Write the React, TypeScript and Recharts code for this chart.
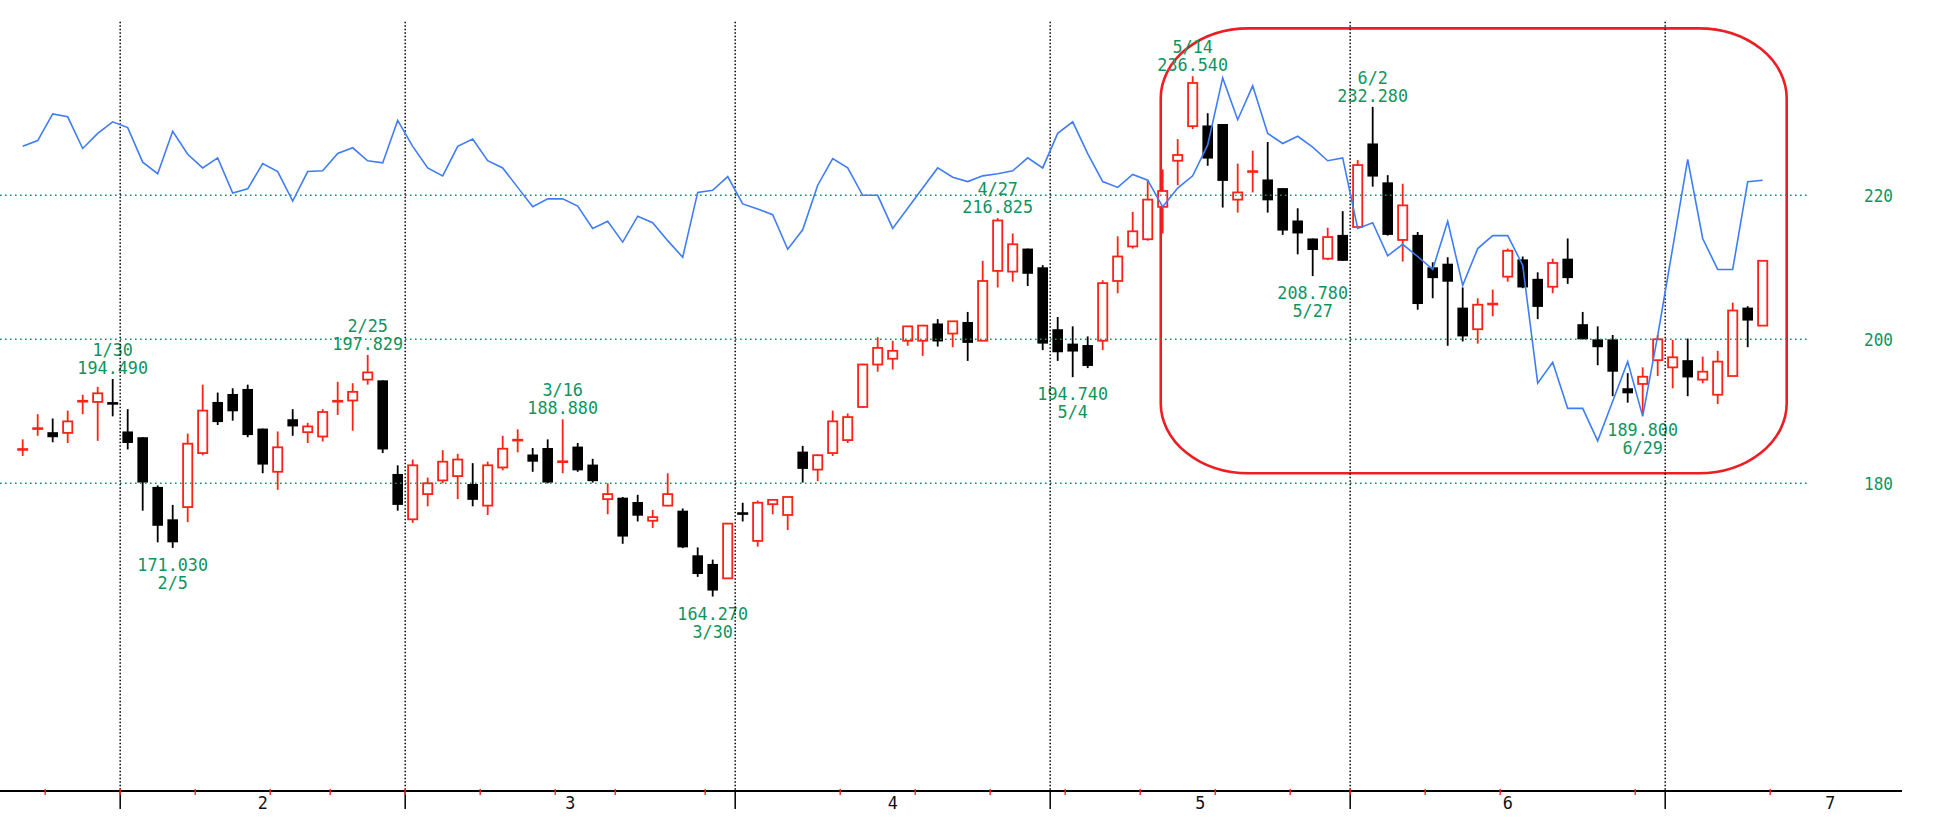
import { Bar, ComposedChart, Line, ReferenceArea, ReferenceLine, XAxis, YAxis } from 'recharts';

// daily candles, 2015-01-22 .. 2015-07-10 (index = trading day)
const opens = [
  184.7, 187.6, 187.1, 187.0, 191.4, 191.3, 191.1,
  187.2, 186.4, 179.5, 175.0, 176.7, 184.2, 191.3, 192.4, 193.1, 187.6, 181.6, 188.9, 187.1, 186.5, 191.4, 191.5, 194.4, 194.3, 181.3,
  175.0, 178.5, 180.4, 181.0, 179.9, 176.9, 182.2, 186.0, 184.0, 184.9, 183.0, 185.1, 182.6, 177.8, 178.0, 177.4, 174.8, 176.9, 176.2, 170.0, 168.8, 166.8,
  175.8, 172.0, 177.1, 175.6, 184.4, 181.9, 184.2, 186.0, 190.6, 196.5, 197.3, 199.8, 199.8, 202.2, 200.8, 202.4, 199.8, 209.5, 209.4, 212.6, 210.0,
  201.4, 199.4, 199.2, 199.8, 208.1, 212.9, 213.9, 218.4, 224.8, 229.6, 229.7, 229.9, 219.4, 223.3, 222.2, 221.0, 216.5, 214.0, 211.2, 214.5,
  215.6, 227.2, 221.8, 213.8, 214.5, 210.0, 210.5, 204.4, 201.4, 204.9, 208.7, 211.1, 208.4, 207.3, 211.2, 202.1, 200.0, 200.0, 193.2, 193.8, 197.1,
  196.1, 197.1, 194.4, 192.3, 194.9, 204.4, 201.9,
];
const highs = [
  186.1, 189.6, 189.0, 190.1, 192.3, 193.4, 194.49,
  190.3, 186.4, 179.7, 177.0, 186.9, 193.7, 192.6, 193.2, 193.7, 187.6, 187.2, 190.3, 188.4, 190.3, 194.1, 193.9, 197.829, 194.3, 182.5,
  183.3, 180.8, 184.6, 184.1, 182.8, 183.0, 186.6, 187.5, 184.9, 186.1, 188.88, 185.6, 183.4, 180.0, 178.1, 178.4, 176.3, 181.4, 176.5, 171.1, 169.4, 174.5,
  177.3, 177.6, 177.8, 178.1, 185.2, 184.0, 190.1, 189.7, 196.6, 200.3, 199.8, 201.8, 202.0, 202.8, 202.5, 203.8, 210.9, 216.825, 214.7, 212.6, 210.3,
  203.1, 201.8, 200.4, 208.2, 214.3, 217.7, 222.1, 223.6, 227.8, 236.54, 231.4, 229.9, 224.4, 226.2, 227.4, 221.0, 218.2, 214.0, 215.5, 217.8,
  224.9, 232.28, 222.8, 221.6, 214.9, 210.7, 211.4, 207.2, 205.7, 206.9, 212.6, 211.5, 209.3, 211.2, 214.0, 203.8, 201.8, 200.6, 195.3, 196.1, 200.6,
  199.9, 200.1, 197.6, 198.4, 205.1, 204.6, 210.9,
];
const lows = [
  183.8, 186.6, 185.7, 185.6, 189.6, 185.9, 189.3,
  184.7, 176.2, 171.8, 171.03, 174.6, 183.9, 188.1, 188.7, 186.4, 181.4, 179.1, 186.6, 185.6, 185.8, 189.5, 187.3, 193.7, 184.2, 176.2,
  174.5, 176.8, 180.0, 177.8, 176.8, 175.6, 181.8, 184.3, 181.6, 180.0, 181.4, 181.6, 180.1, 175.7, 171.6, 174.7, 173.8, 176.8, 171.0, 167.0, 164.27, 166.8,
  174.7, 171.2, 175.7, 173.5, 180.1, 180.3, 183.8, 185.6, 190.5, 195.5, 195.8, 199.1, 197.7, 199.0, 198.9, 197.0, 199.8, 207.2, 208.0, 207.4, 198.5,
  197.0, 194.74, 196.0, 198.5, 206.4, 212.6, 213.7, 214.7, 221.4, 229.2, 224.1, 218.3, 217.6, 220.4, 217.6, 214.5, 211.8, 208.78, 211.0, 210.9,
  215.6, 221.2, 214.4, 210.8, 204.1, 205.7, 199.1, 199.7, 199.4, 203.2, 208.0, 207.1, 202.8, 206.4, 207.7, 200.0, 196.4, 192.1, 191.2, 189.8, 194.9,
  193.2, 192.1, 193.9, 191.0, 194.9, 198.9, 201.9,
];
const closes = [
  184.7, 187.6, 186.4, 188.6, 191.4, 192.5, 191.09,
  185.6, 180.1, 174.1, 171.8, 185.5, 190.1, 188.5, 190.0, 186.7, 182.6, 185.0, 187.9, 187.9, 189.9, 191.4, 192.7, 195.4, 184.7, 177.0,
  182.5, 180.0, 183.0, 183.3, 177.7, 182.5, 184.8, 186.0, 183.0, 180.1, 183.0, 181.8, 180.3, 178.5, 172.6, 175.5, 175.3, 178.5, 171.1, 167.4, 165.1, 174.4,
  175.79, 177.3, 177.7, 178.1, 182.0, 183.9, 188.6, 189.2, 196.5, 198.8, 198.4, 201.8, 201.9, 199.7, 202.5, 199.5, 208.1, 216.5, 213.2, 209.1, 199.4,
  198.2, 198.3, 196.3, 207.8, 211.5, 215.0, 219.4, 220.6, 225.6, 235.6, 225.1, 222.0, 220.4, 223.3, 219.3, 215.1, 214.7, 212.4, 214.2, 210.9,
  224.2, 222.6, 214.5, 218.6, 204.9, 208.5, 208.0, 200.4, 204.8, 204.9, 212.3, 207.2, 204.5, 210.6, 208.5, 200.0, 198.9, 195.5, 192.5, 194.8, 200.0,
  197.5, 194.7, 195.5, 196.9, 204.0, 202.6, 210.9,
];
// blue comparison line, read on the price scale
const relative = [
  226.8, 227.6, 231.3, 230.9, 226.5, 228.6, 230.2, 229.4, 224.6, 223.0, 228.9, 225.7, 223.8, 225.2, 220.3, 220.9, 224.4, 223.3, 219.2, 223.3,
  223.4, 225.8, 226.6, 224.8, 224.5, 230.4, 226.8, 223.8, 222.7, 226.8, 227.8, 224.8, 223.8, 221.1, 218.4, 219.5, 219.5, 218.5, 215.4, 216.4,
  213.5, 217.1, 216.2, 213.7, 211.4, 220.4, 220.7, 222.6, 218.8, 218.1, 217.3, 212.5, 215.2, 221.4, 225.1, 223.8, 220.0, 220.0, 215.4, 218.2,
  221.0, 223.8, 222.5, 221.9, 222.7, 223.0, 223.4, 225.2, 223.8, 228.6, 230.2, 225.8, 221.9, 221.1, 222.9, 222.1, 218.4, 221.0, 222.7, 227.0,
  236.3, 230.5, 235.2, 228.6, 227.2, 228.2, 226.7, 224.8, 225.2, 215.4, 216.2, 211.6, 213.2, 211.5, 209.7, 216.4, 207.5, 212.6, 214.4, 214.4,
  210.3, 193.9, 196.8, 190.4, 190.4, 185.9, 191.4, 196.9, 189.3, 200.5, 212.7, 225.0, 214.0, 209.7, 209.7, 221.9, 222.1,
];

const monthNames = ['2', '3', '4', '5', '6', '7'];
const monthCenters = [16, 36.5, 58, 78.5, 99, 120.5];
const monthBreaks = [6.5, 25.5, 47.5, 68.5, 88.5, 109.5];
const weekMarks = [1.5, 6.5, 11.5, 16.5, 20.5, 25.5, 30.5, 35.5, 39.5, 45.5, 54.5, 59.5, 64.5, 69.5, 74.5, 79.5, 84.5, 88.5, 93.5, 98.5, 107.5, 116.5];
const priceTicks = [180, 200, 220];

const highNotes = [
  { i: 6, date: '1/30', value: '194.490' },
  { i: 23, date: '2/25', value: '197.829' },
  { i: 36, date: '3/16', value: '188.880' },
  { i: 65, date: '4/27', value: '216.825' },
  { i: 78, date: '5/14', value: '236.540' },
  { i: 90, date: '6/2', value: '232.280' },
];
const lowNotes = [
  { i: 10, date: '2/5', value: '171.030' },
  { i: 46, date: '3/30', value: '164.270' },
  { i: 70, date: '5/4', value: '194.740' },
  { i: 86, date: '5/27', value: '208.780' },
  { i: 108, date: '6/29', value: '189.800' },
];

// highlighted box (index range, price range)
const boxFrom = 75.87;
const boxTo = 117.6;
const boxTop = 243.19;
const boxBottom = 181.39;

const X_DOMAIN: [number, number] = [-1.513, 125.287];
const Y_DOMAIN: [number, number] = [137.264, 247.125];
const GRID_END = 119.15;
const VLINE_TOP = 244.11;

const RED = '#ff2216';
const GREEN = '#0f9460';
const BLUE = '#3f7df6';
const FONT = '"DejaVu Sans Mono", monospace';
const FONT_SIZE = 18;
const CHAR_W = 10.1;

const rows = opens.map((open, i) => ({
  i,
  open,
  high: highs[i],
  low: lows[i],
  close: closes[i],
  range: [lows[i], highs[i]],
  rel: relative[i],
}));

// stacked lines in one text element, first baseline at y
function Note({ x, y, lines, fill = GREEN }: { x: number; y: number; lines: string[]; fill?: string }) {
  return (
    <text textAnchor="middle" fontFamily={FONT} fontSize={FONT_SIZE} fill={fill}>
      {lines.map((t, k) => (
        <tspan key={k} x={x} y={y + k * 18} textLength={t.length * CHAR_W} lengthAdjust="spacingAndGlyphs">
          {t}
        </tspan>
      ))}
    </text>
  );
}

function Candle(props: any) {
  const { x, y, width, height, payload } = props;
  if (payload == null || x == null || y == null) return null;
  const { open, high, low, close, i } = payload;
  const top = Math.min(y, y + height);
  const h = Math.abs(height);
  const k = h / (high - low);
  const py = (v: number) => top + (high - v) * k;
  const cx = x + width / 2;
  const up = close >= open;
  const color = up ? RED : '#000';
  const bodyTop = py(Math.max(open, close));
  const bodyBottom = py(Math.min(open, close));
  const doji = Math.abs(close - open) < 0.2;
  const hi = highNotes.find(n => n.i === i);
  const lo = lowNotes.find(n => n.i === i);

  return (
    <g>
      <line x1={cx} x2={cx} y1={top} y2={top + h} stroke={color} strokeWidth={1.8} />
      {doji ? (
        <line x1={cx - 5.5} x2={cx + 5.5} y1={bodyTop} y2={bodyTop} stroke={color} strokeWidth={2.6} />
      ) : up ? (
        <rect x={cx - 4.6} y={bodyTop} width={9.2} height={Math.max(bodyBottom - bodyTop, 1)} fill="#fff" stroke={RED} strokeWidth={1.8} />
      ) : (
        <rect x={cx - 5.3} y={bodyTop} width={10.6} height={Math.max(bodyBottom - bodyTop, 1.5)} fill="#000" />
      )}
      {hi && <Note x={cx} y={top - 23} lines={[hi.date, hi.value]} />}
      {lo && <Note x={cx} y={top + h + 23} lines={[lo.value, lo.date]} />}
    </g>
  );
}

const axisTicks = Array.from(new Set([...monthCenters, ...monthBreaks, ...weekMarks])).sort((a, b) => a - b);

function MonthTick({ x, y, payload }: any) {
  const v = payload.value;
  const m = monthCenters.indexOf(v);
  return (
    <g>
      {monthBreaks.includes(v) && <line x1={x} x2={x} y1={y} y2={y + 18} stroke="#000" strokeWidth={1.5} />}
      {weekMarks.includes(v) && <line x1={x} x2={x} y1={y - 2} y2={y + 4} stroke={RED} strokeWidth={1.4} />}
      {m >= 0 && <Note x={x} y={y + 18} lines={[monthNames[m]]} fill="#111" />}
    </g>
  );
}

function PriceTick({ x, y, payload }: any) {
  return (
    <text
      x={x - 9}
      y={y + 6.5}
      textAnchor="end"
      fontFamily={FONT}
      fontSize={FONT_SIZE}
      fill={GREEN}
      textLength={29}
      lengthAdjust="spacingAndGlyphs"
    >
      {payload.value}
    </text>
  );
}

function Box(props: any) {
  const { x, y, width, height } = props;
  return <rect x={x} y={y} width={width} height={height} rx={88} ry={70} fill="none" stroke="#ee1d23" strokeWidth={2.6} />;
}

export default function App() {
  return (
    <div style={{ position: 'absolute', left: 0, top: 0, background: '#fff' }}>
      <ComposedChart width={1939} height={828} data={rows} margin={{ top: 0, right: 0, bottom: 0, left: 0 }}>
        <XAxis
          dataKey="i"
          type="number"
          domain={X_DOMAIN}
          allowDataOverflow
          ticks={axisTicks}
          interval={0}
          height={37}
          tickSize={0}
          tickMargin={0}
          tickLine={false}
          axisLine={{ stroke: '#000', strokeWidth: 2 }}
          tick={<MonthTick />}
        />
        <YAxis
          orientation="right"
          width={37}
          domain={Y_DOMAIN}
          allowDataOverflow
          ticks={priceTicks}
          interval={0}
          tickSize={0}
          tickMargin={0}
          axisLine={false}
          tickLine={false}
          tick={<PriceTick />}
        />
        {priceTicks.map(p => (
          <ReferenceLine
            key={p}
            segment={[{ x: X_DOMAIN[0], y: p }, { x: GRID_END, y: p }]}
            stroke={GREEN}
            strokeWidth={1.6}
            strokeDasharray="1.6 3.4"
          />
        ))}
        {monthBreaks.map(b => (
          <ReferenceLine
            key={b}
            segment={[{ x: b, y: VLINE_TOP }, { x: b, y: Y_DOMAIN[0] }]}
            stroke="#000"
            strokeWidth={1.5}
            strokeDasharray="1.5 2"
          />
        ))}
        <Bar dataKey="range" barSize={11} shape={<Candle />} isAnimationActive={false} />
        <Line
          type="linear"
          dataKey="rel"
          stroke={BLUE}
          strokeWidth={1.6}
          dot={false}
          activeDot={false}
          isAnimationActive={false}
        />
        <ReferenceArea x1={boxFrom} x2={boxTo} y1={boxBottom} y2={boxTop} shape={<Box />} />
      </ComposedChart>
    </div>
  );
}
